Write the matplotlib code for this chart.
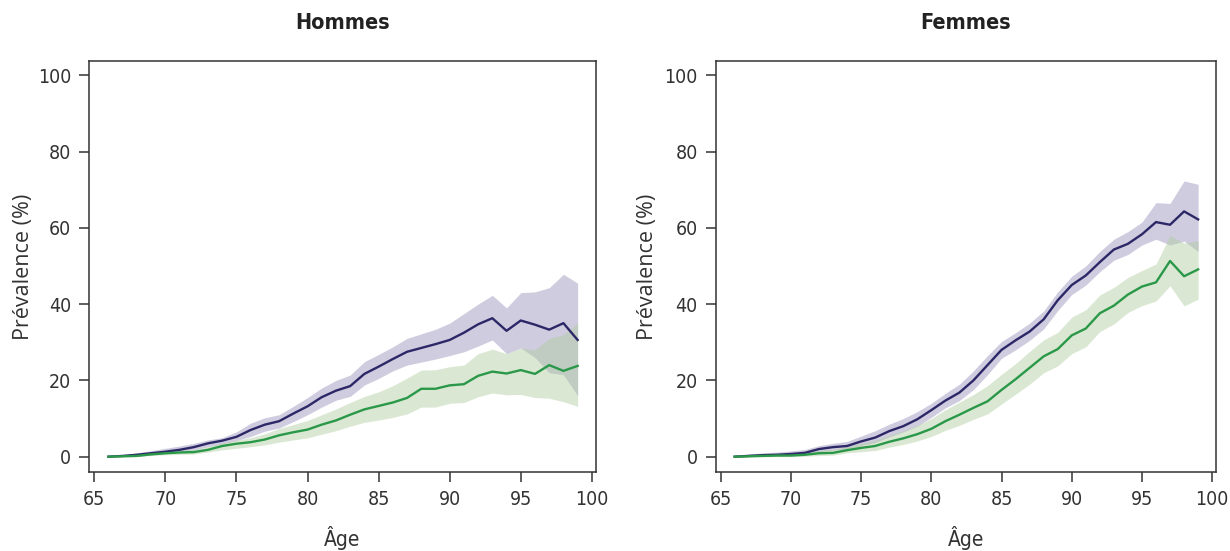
import matplotlib
matplotlib.use('Agg')
import matplotlib.pyplot as plt
from matplotlib import font_manager

ages = list(range(66, 100))

# Hommes
h_blue = [0, 0.2, 0.5, 0.9, 1.3, 1.8, 2.5, 3.5, 4.2, 5.2, 7.0, 8.4, 9.3, 11.3, 13.2, 15.6, 17.3,
          18.5, 21.7, 23.6, 25.6, 27.5, 28.5, 29.5, 30.6, 32.5, 34.7, 36.3, 33.0, 35.7, 34.6, 33.3, 35.0, 30.6]
h_blue_hi = [0.2, 0.5, 1.0, 1.6, 2.2, 2.8, 3.5, 4.4, 5.0, 6.5, 8.8, 10.2, 11.0, 13.2, 15.5, 18.0, 20.0,
             21.4, 24.9, 26.8, 28.8, 31.0, 32.2, 33.4, 35.0, 37.5, 40.0, 42.3, 39.0, 43.0, 43.2, 44.3, 47.8, 45.5]
h_blue_lo = [0, 0.1, 0.2, 0.5, 0.8, 1.2, 1.8, 2.6, 3.3, 4.2, 5.3, 6.7, 7.5, 9.2, 11.0, 13.0, 14.8,
             15.8, 18.8, 20.5, 22.5, 24.0, 24.8, 25.6, 26.5, 27.5, 29.0, 30.6, 27.0, 28.5, 26.0, 22.0, 21.5, 16.0]
h_green = [0, 0.1, 0.2, 0.6, 0.9, 1.1, 1.2, 1.8, 2.8, 3.4, 3.8, 4.5, 5.6, 6.4, 7.1, 8.4, 9.5,
           11.0, 12.4, 13.3, 14.2, 15.4, 17.8, 17.8, 18.7, 19.0, 21.2, 22.3, 21.8, 22.7, 21.7, 24.0, 22.5, 23.8]
h_green_hi = [0.1, 0.3, 0.5, 1.0, 1.4, 1.7, 1.9, 2.6, 3.6, 4.3, 5.0, 6.0, 7.4, 8.4, 9.5, 11.0, 12.5,
              14.2, 15.8, 17.0, 18.6, 20.6, 22.7, 22.8, 23.6, 24.0, 27.0, 28.2, 27.0, 28.5, 28.0, 31.0, 32.0, 35.0]
h_green_lo = [0, 0, 0.05, 0.3, 0.5, 0.6, 0.7, 1.2, 1.8, 2.2, 2.6, 3.1, 3.8, 4.4, 4.9, 5.9, 6.8,
              8.0, 9.0, 9.6, 10.3, 11.2, 13.0, 13.0, 14.0, 14.2, 15.7, 16.7, 16.2, 16.3, 15.5, 15.3, 14.4, 13.2]

# Femmes
f_blue = [0, 0.2, 0.4, 0.5, 0.7, 1.0, 2.0, 2.5, 2.8, 4.0, 5.0, 6.7, 8.0, 9.8, 12.2, 14.7, 16.8,
          20.0, 24.0, 28.0, 30.5, 32.8, 36.0, 41.0, 45.0, 47.5, 51.0, 54.3, 55.8, 58.3, 61.5, 60.8, 64.3, 62.2]
f_blue_hi = [0.3, 0.7, 1.0, 1.2, 1.5, 1.9, 2.9, 3.5, 4.0, 5.4, 6.8, 8.5, 10.0, 11.8, 14.0, 16.6, 19.0,
             22.5, 26.5, 30.2, 32.5, 35.0, 38.2, 43.2, 47.3, 50.0, 53.8, 57.0, 59.0, 61.5, 66.6, 66.4, 72.3, 71.4]
f_blue_lo = [0, 0, 0.1, 0.2, 0.3, 0.5, 1.3, 1.7, 2.0, 2.9, 3.7, 5.2, 6.5, 8.0, 10.3, 12.8, 14.7,
             17.6, 21.5, 25.8, 28.0, 30.5, 33.5, 38.3, 42.5, 45.0, 48.5, 51.5, 53.0, 55.5, 57.0, 55.5, 56.5, 53.8]
f_green = [0, 0.1, 0.2, 0.3, 0.3, 0.5, 0.9, 1.0, 1.7, 2.3, 2.8, 3.9, 4.8, 5.9, 7.3, 9.3, 11.0,
           12.8, 14.5, 17.5, 20.3, 23.3, 26.3, 28.2, 31.8, 33.6, 37.6, 39.6, 42.5, 44.6, 45.7, 51.3, 47.3, 49.1]
f_green_hi = [0.1, 0.3, 0.5, 0.6, 0.8, 1.1, 1.7, 1.9, 2.7, 3.5, 4.3, 5.6, 6.8, 8.2, 10.0, 12.3, 14.3,
              16.3, 18.6, 21.6, 24.4, 27.6, 30.6, 32.6, 36.6, 38.5, 42.4, 44.4, 47.0, 48.8, 50.5, 58.0, 56.0, 56.6]
f_green_lo = [0, 0, 0, 0, 0, 0.1, 0.3, 0.4, 1.0, 1.3, 1.6, 2.5, 3.2, 4.1, 5.3, 6.9, 8.2,
              9.8, 11.2, 13.8, 16.4, 19.0, 22.0, 23.8, 27.0, 28.8, 32.8, 34.8, 37.8, 39.6, 40.8, 44.8, 39.5, 41.3]

panels = [
    ('Hommes', h_blue, h_blue_lo, h_blue_hi, h_green, h_green_lo, h_green_hi),
    ('Femmes', f_blue, f_blue_lo, f_blue_hi, f_green, f_green_lo, f_green_hi),
]


# look for a narrow font file, the reference uses a condensed face
def find_narrow(bold=False):
    prefs = ['LiberationSansNarrow', 'DejaVuSansCondensed', 'RobotoCondensed',
             'OpenSans_Condensed', 'OpenSansCondensed', 'NotoSans-Condensed', 'NotoSansCondensed']
    files = [f.fname for f in font_manager.fontManager.ttflist]
    for p in prefs:
        for fn in files:
            base = fn.split('/')[-1].replace(' ', '')
            if not base.startswith(p):
                continue
            is_bold = 'Bold' in base
            if bold == is_bold and 'Italic' not in base and 'Oblique' not in base:
                if bold or not any(w in base for w in ['Light', 'Medium', 'Semi', 'Thin', 'Black', 'Extra']):
                    return font_manager.FontProperties(fname=fn)
    return font_manager.FontProperties(family='DejaVu Sans', stretch='condensed',
                                       weight='bold' if bold else 'normal')


narrow = find_narrow()
narrow_bold = find_narrow(bold=True)

blue, green = '#2c2868', '#2a9848'
blue_band, green_band = '#968eba', '#afcc9f'
ink = '#333333'

fig = plt.figure(figsize=(12.3, 5.51), dpi=100)
lefts = [0.0726, 0.5819]
widths = [0.4117, 0.4067]
label_x = [-0.129, -0.137]

for i, (title, b, b_lo, b_hi, g, g_lo, g_hi) in enumerate(panels):
    ax = fig.add_axes([lefts[i], 0.1428, widths[i], 0.747])
    ax.fill_between(ages, b_lo, b_hi, color=blue_band, alpha=0.45, lw=0)
    ax.fill_between(ages, g_lo, g_hi, color=green_band, alpha=0.45, lw=0)
    ax.plot(ages, b, color=blue, lw=1.7)
    ax.plot(ages, g, color=green, lw=1.7)

    ax.set_xlim(64.65, 100.27)
    ax.set_ylim(-4.1, 103.8)
    ax.set_xticks(range(65, 101, 5))
    ax.set_yticks(range(0, 101, 20))
    ax.tick_params(direction='out', length=7, width=1.1, color=ink, labelcolor=ink, pad=6)
    for lab in ax.get_xticklabels() + ax.get_yticklabels():
        lab.set_fontproperties(narrow)
        lab.set_fontsize(14)
    for s in ax.spines.values():
        s.set_color(ink)
        s.set_linewidth(1.1)

    ax.set_title(title, fontproperties=narrow_bold, fontsize=15.5, color='#222222', pad=22.5)
    ax.set_xlabel('Âge', fontproperties=narrow, fontsize=15, color=ink)
    ax.xaxis.label.set_va('center')
    ax.xaxis.set_label_coords(0.5, -0.16)
    ax.set_ylabel('Prévalence (%)', fontsize=15.5, color=ink, family=['Open Sans', 'DejaVu Sans'])
    ax.yaxis.label.set_va('center')
    ax.yaxis.set_label_coords(label_x[i], 0.5)

fig.savefig('out.png', dpi=100)
